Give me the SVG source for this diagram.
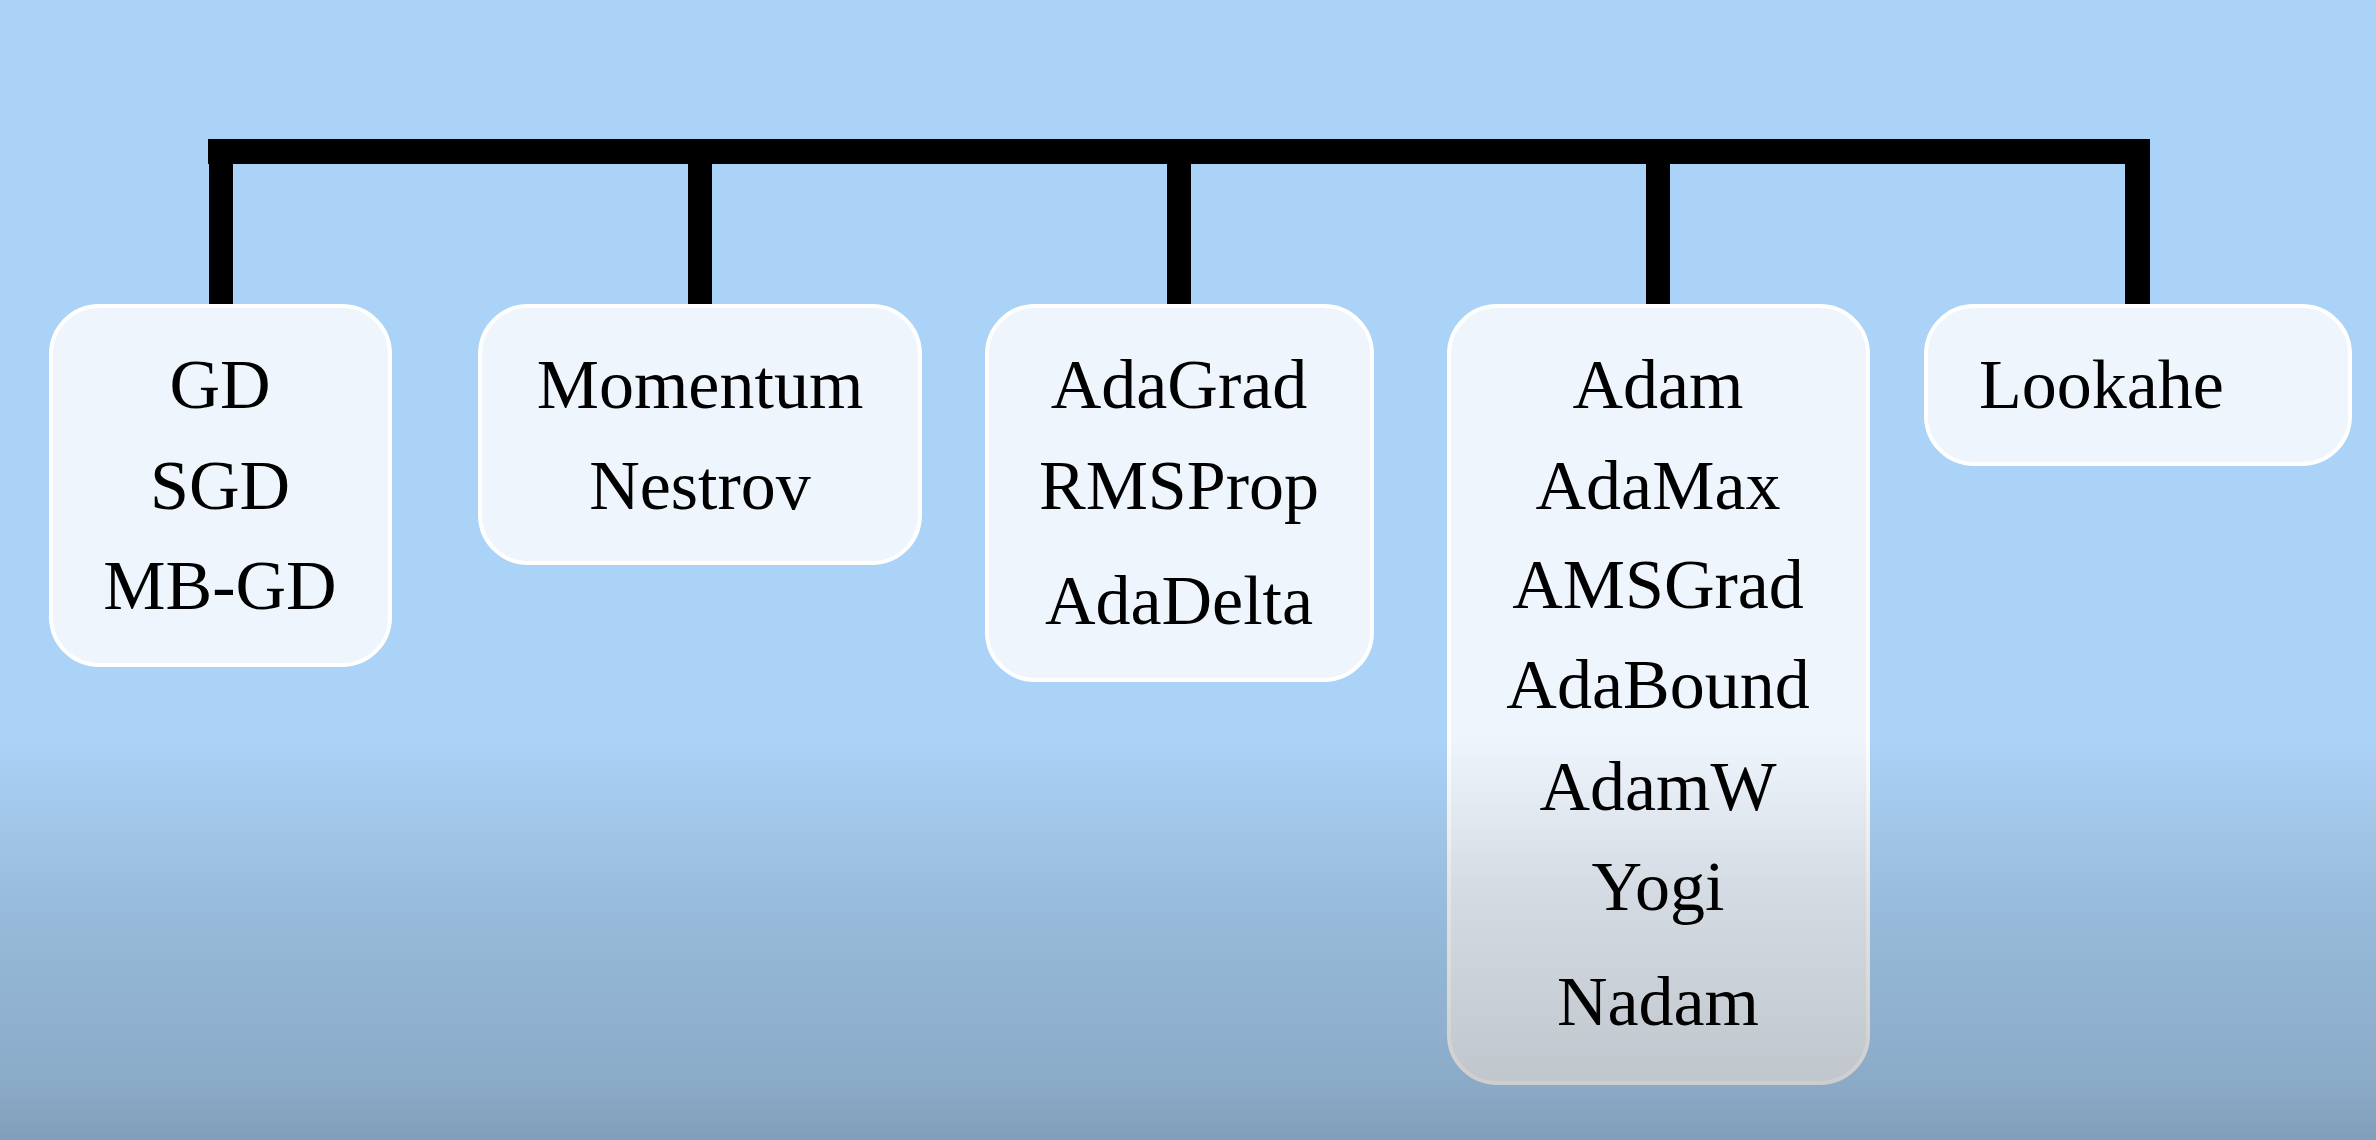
<svg xmlns="http://www.w3.org/2000/svg" width="2376" height="1140" viewBox="0 0 2376 1140">
<defs>
<linearGradient id="shade" x1="0" y1="0" x2="0" y2="1">
<stop offset="0" stop-color="#000" stop-opacity="0"/>
<stop offset="0.4" stop-color="#000" stop-opacity="0.11"/>
<stop offset="0.85" stop-color="#000" stop-opacity="0.19"/>
<stop offset="1" stop-color="#000" stop-opacity="0.25"/>
</linearGradient>
<style>
.box{fill:#EEF5FD;stroke:#FFFFFF;stroke-width:4}
.lbl{font-family:"Liberation Serif","Times New Roman",serif;font-size:70px;fill:#000;text-anchor:middle}
.wire{fill:#000}
</style>
</defs>
<rect x="0" y="0" width="2376" height="1140" fill="#ABD3F7"/>
<g id="connectors">
<rect class="wire" x="208" y="139" width="1942" height="25"/>
<rect class="wire" x="209" y="150" width="24" height="156"/>
<rect class="wire" x="688" y="150" width="24" height="156"/>
<rect class="wire" x="1167" y="150" width="24" height="156"/>
<rect class="wire" x="1646" y="150" width="24" height="156"/>
<rect class="wire" x="2125" y="150" width="25" height="156"/>
</g>
<g id="node-gd">
<rect class="box" x="51" y="306" width="339" height="359" rx="48" ry="48"/>
<text class="lbl" x="220" y="408">GD</text>
<text class="lbl" x="220" y="509">SGD</text>
<text class="lbl" x="220" y="609">MB-GD</text>
</g>
<g id="node-momentum">
<rect class="box" x="480" y="306" width="440" height="257" rx="48" ry="48"/>
<text class="lbl" x="700" y="408">Momentum</text>
<text class="lbl" x="700" y="509">Nestrov</text>
</g>
<g id="node-adagrad">
<rect class="box" x="987" y="306" width="385" height="374" rx="48" ry="48"/>
<text class="lbl" x="1179" y="408">AdaGrad</text>
<text class="lbl" x="1179" y="509">RMSProp</text>
<text class="lbl" x="1179" y="624">AdaDelta</text>
</g>
<g id="node-adam">
<rect class="box" x="1449" y="306" width="419" height="777" rx="48" ry="48"/>
<text class="lbl" x="1658" y="408">Adam</text>
<text class="lbl" x="1658" y="509">AdaMax</text>
<text class="lbl" x="1658" y="608">AMSGrad</text>
<text class="lbl" x="1658" y="708">AdaBound</text>
<text class="lbl" x="1658" y="810">AdamW</text>
<text class="lbl" x="1658" y="910">Yogi</text>
<text class="lbl" x="1658" y="1025">Nadam</text>
</g>
<g id="node-lookahead">
<rect class="box" x="1926" y="306" width="424" height="158" rx="48" ry="48"/>
<text class="lbl" x="1979" y="408" style="text-anchor:start">Lookahe</text>
</g>
<rect x="0" y="735" width="2376" height="405" fill="url(#shade)" pointer-events="none"/>
</svg>
